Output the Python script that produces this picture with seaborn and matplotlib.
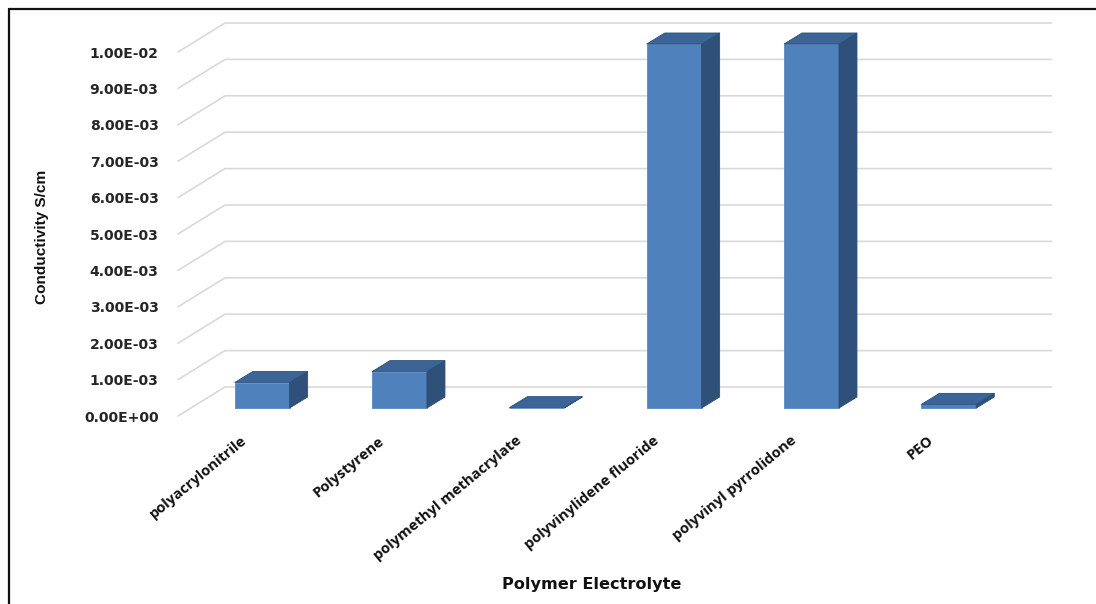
import matplotlib
matplotlib.use("Agg")
import matplotlib.pyplot as plt
from matplotlib.patches import Polygon
from matplotlib.lines import Line2D
from matplotlib.transforms import ScaledTranslation
import pandas as pd
import seaborn as sns

polymers = ["polyacrylonitrile", "Polystyrene", "polymethyl methacrylate",
            "polyvinylidene fluoride", "polyvinyl pyrrolidone", "PEO"]
conductivity = [7.0e-4, 1.0e-3, 1.0e-5, 1.0e-2, 1.0e-2, 1.0e-4]
y_ticks = [0.0, 1e-3, 2e-3, 3e-3, 4e-3, 5e-3, 6e-3, 7e-3, 8e-3, 9e-3, 1e-2]
y_tick_labels = ["0.00E+00", "1.00E-03", "2.00E-03", "3.00E-03", "4.00E-03", "5.00E-03",
                 "6.00E-03", "7.00E-03", "8.00E-03", "9.00E-03", "1.00E-02"]

W, H = 1096, 604
AX_L, AX_T, AX_W, AX_H = 178, 52, 824, 364

FRONT = "#4f81bd"
TOP = "#3d6496"
SIDE = "#2f5078"
EDGE = "#2a4f7c"
GRID = "#d9d9d9"

sns.set_theme(style="white")
fig = plt.figure(figsize=(W / 100, H / 100), dpi=100, facecolor="white")
ax = fig.add_axes([AX_L / W, (H - AX_T - AX_H) / H, AX_W / W, AX_H / H])

df = pd.DataFrame({"polymer": polymers, "conductivity": conductivity})
sns.barplot(data=df, x="polymer", y="conductivity", color=FRONT, saturation=1,
            width=0.4, ax=ax, zorder=3)
ax.set_xlim(-0.5, 5.5)
ax.set_ylim(0, 0.01)

# pixel sizes expressed in data units, for the pseudo-3D depth
px_x = 6 / AX_W
px_y = 0.01 / AX_H
wall_dx, wall_dy = 47 * px_x, 29 * px_y
shift_dx, shift_dy = 15.5 * px_x, 8 * px_y
depth_dx, depth_dy = 18 * px_x, 11 * px_y

# floor and back wall gridlines
x_left = -0.5
x_right = 5.5 + 2.5 * px_x
for v in y_ticks:
    ax.plot([x_left, x_left + wall_dx, x_right + wall_dx],
            [v, v + wall_dy, v + wall_dy],
            color=GRID, lw=1.2, clip_on=False, zorder=1)

# bars: front face moved onto the mid-depth plane, then side and top faces added
for bar in ax.patches[:len(polymers)]:
    bar.set_x(bar.get_x() + shift_dx)
    bar.set_y(bar.get_y() + shift_dy)
    bar.set_clip_on(False)
    bar.set_edgecolor("#5b8ac2")
    bar.set_linewidth(0.6)
    x0, y0 = bar.get_x(), bar.get_y()
    x1, y1 = x0 + bar.get_width(), y0 + bar.get_height()
    side = Polygon([(x1, y0), (x1 + depth_dx, y0 + depth_dy),
                    (x1 + depth_dx, y1 + depth_dy), (x1, y1)],
                   closed=True, facecolor=SIDE, edgecolor=EDGE, lw=0.6,
                   clip_on=False, zorder=3)
    top = Polygon([(x0, y1), (x0 + depth_dx, y1 + depth_dy),
                   (x1 + depth_dx, y1 + depth_dy), (x1, y1)],
                  closed=True, facecolor=TOP, edgecolor=EDGE, lw=0.6,
                  clip_on=False, zorder=3)
    ax.add_patch(side)
    ax.add_patch(top)

for s in ax.spines.values():
    s.set_visible(False)
ax.grid(False)
ax.patch.set_visible(False)

ax.set_yticks(y_ticks)
ax.set_yticklabels(y_tick_labels, fontsize=10.1, fontweight="bold", color="#262626",
                   family="DejaVu Sans")
ax.tick_params(axis="y", length=0, pad=14)
ax.set_xticks(range(len(polymers)))
ax.set_xticklabels(polymers, rotation=39.5, ha="right", rotation_mode="anchor",
                   fontsize=10.6, fontweight="bold", color="#111111", family="Open Sans")
ax.tick_params(axis="x", length=0, pad=12.5)
label_shift = ScaledTranslation(-6 / 100, 0, fig.dpi_scale_trans)
for lab in ax.get_xticklabels():
    lab.set_transform(lab.get_transform() + label_shift)

ax.set_xlabel("")
ax.set_ylabel("")
fig.text(592 / W, 1 - 584 / H, "Polymer Electrolyte", ha="center", va="center",
         fontsize=11.6, fontweight="bold", color="#111111", family="DejaVu Sans")
fig.text(42 / W, 1 - 237 / H, "Conductivity S/cm", rotation=90, ha="center", va="center",
         fontsize=11.1, fontweight="bold", color="#111111", family="Liberation Sans")

# outer frame: top and left edges only
fig.add_artist(Line2D([8.5 / W, 1], [1 - 8.5 / H, 1 - 8.5 / H], color="#111111", lw=1.6))
fig.add_artist(Line2D([8.5 / W, 8.5 / W], [0, 1 - 8.5 / H], color="#111111", lw=1.6))

fig.savefig("out.png", dpi=100)
